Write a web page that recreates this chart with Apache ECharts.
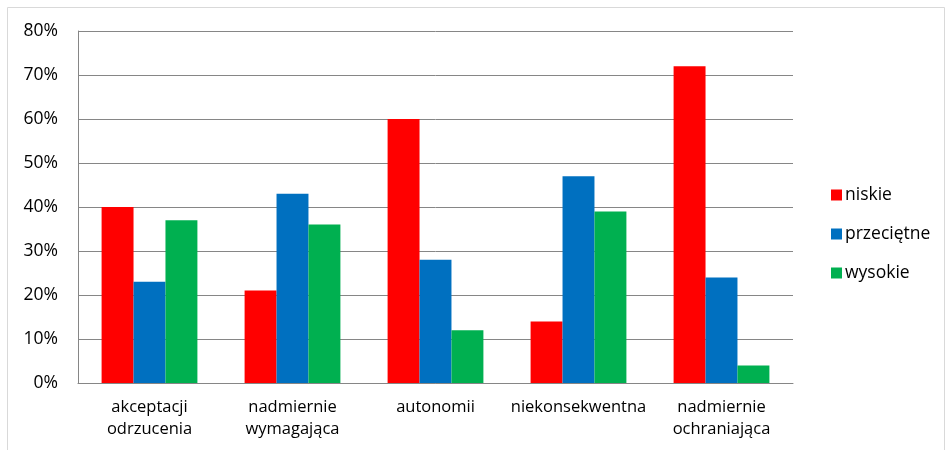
<!DOCTYPE html>
<html><head><meta charset="utf-8">
<script src="https://cdn.jsdelivr.net/npm/echarts@6/dist/echarts.min.js"></script>
<style>html,body{margin:0;padding:0;background:#fff}#c{width:948px;height:450px}</style>
</head><body><div id="c"></div>
<script>
const categories = ['akceptacji\nodrzucenia', 'nadmiernie\nwymagająca', 'autonomii', 'niekonsekwentna', 'nadmiernie\nochraniająca'];
const niskie = [40, 21, 60, 14, 72];
const przecietne = [23, 43, 28, 47, 24];
const wysokie = [37, 36, 12, 39, 4];
const yTicks = [0, 10, 20, 30, 40, 50, 60, 70, 80];

const font = 'Open Sans';
const chart = echarts.init(document.getElementById('c'), null, {renderer: 'canvas'});
chart.setOption({
  animation: false,
  textStyle: {fontFamily: font},
  graphic: [{type: 'rect', shape: {x: 7.5, y: 7.5, width: 937, height: 470}, style: {fill: 'none', stroke: '#d9d9d9', lineWidth: 1}, silent: true}],
  grid: {left: 78, right: 155, top: 31, bottom: 67},
  legend: {
    orient: 'vertical', left: 826, top: 181, itemWidth: 11, itemHeight: 11, itemGap: 21,
    icon: 'rect',
    textStyle: {fontFamily: font, fontSize: 17.5, color: '#000', padding: [0, 0, 0, -2]},
    data: ['niskie', 'przeciętne', 'wysokie']
  },
  xAxis: {
    type: 'category', data: categories,
    axisLine: {lineStyle: {color: '#868686', width: 1}},
    axisTick: {alignWithLabel: true, inside: true, length: 4, lineStyle: {color: '#868686'}},
    axisLabel: {fontFamily: font, fontSize: 16.5, color: '#000', margin: 13, lineHeight: 22, interval: 0}
  },
  yAxis: {
    type: 'value', min: 0, max: 80, interval: 10,
    axisLine: {show: true, lineStyle: {color: '#868686'}},
    axisTick: {show: false},
    splitLine: {lineStyle: {color: '#868686', width: 1}},
    axisLabel: {fontFamily: font, fontSize: 17.5, color: '#000', margin: 20,
      formatter: v => yTicks.includes(v) ? v + '%' : ''}
  },
  series: [
    {name: 'niskie', type: 'bar', data: niskie, itemStyle: {color: '#FF0000'}, barGap: '0%', barCategoryGap: '33%'},
    {name: 'przeciętne', type: 'bar', data: przecietne, itemStyle: {color: '#0070C0'}, barGap: '0%', barCategoryGap: '33%'},
    {name: 'wysokie', type: 'bar', data: wysokie, itemStyle: {color: '#00B050'}, barGap: '0%', barCategoryGap: '33%'}
  ]
});
</script></body></html>
